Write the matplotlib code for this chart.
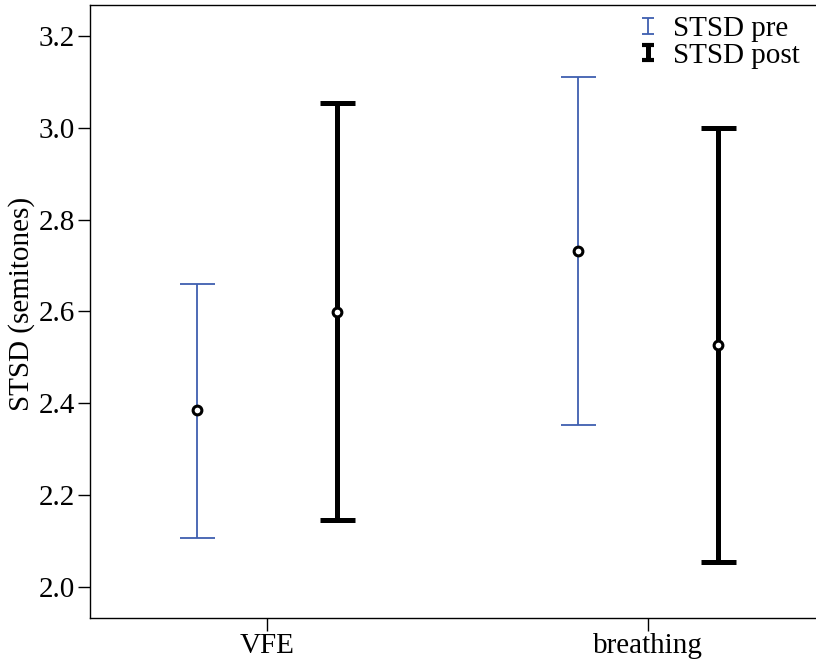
import numpy as np
import matplotlib.pyplot as plt
from matplotlib.container import ErrorbarContainer
from matplotlib.legend_handler import HandlerErrorbar

# %% data
groups = ["VFE", "breathing"]
pre_mean = [2.385, 2.732]
pre_low = [2.107, 2.353]
pre_high = [2.660, 3.111]
post_mean = [2.599, 2.527]
post_low = [2.146, 2.054]
post_high = [3.054, 3.000]

blue = "#3f5fb0"

plt.rcParams["font.family"] = ["Liberation Serif", "DejaVu Serif"]
plt.rcParams["font.size"] = 21

fig = plt.figure(figsize=(8.16, 6.68), dpi=100)
ax = fig.add_axes([90/816, 50/668, 726/816, 613/668])

x = np.arange(len(groups))
off = 0.184

pre_mean = np.array(pre_mean)
post_mean = np.array(post_mean)
pre_err = [pre_mean - np.array(pre_low), np.array(pre_high) - pre_mean]
post_err = [post_mean - np.array(post_low), np.array(post_high) - post_mean]

ax.errorbar(x - off, pre_mean, yerr=pre_err, fmt="none", ecolor=blue,
            elinewidth=1.3, capsize=12.6, capthick=1.3, zorder=2)
ax.errorbar(x + off, post_mean, yerr=post_err, fmt="none", ecolor="black",
            elinewidth=3.6, capsize=12.6, capthick=3.6, zorder=2)
ax.plot(x - off, pre_mean, "o", mfc="white", mec="black", ms=6.3, mew=2.2,
        zorder=3)
ax.plot(x + off, post_mean, "o", mfc="white", mec="black", ms=6.3, mew=2.2,
        zorder=3)

# small handles just for the legend
h_pre = ax.errorbar([np.nan], [np.nan], yerr=[0.1], fmt="none", ecolor=blue,
                    elinewidth=1.3, capsize=4, capthick=1.3)
h_post = ax.errorbar([np.nan], [np.nan], yerr=[0.1], fmt="none",
                     ecolor="black", elinewidth=3.6, capsize=4, capthick=3.0)
ax.legend([h_pre, h_post], ["STSD pre", "STSD post"], loc="upper right",
          bbox_to_anchor=(1.014, 1.025), frameon=False, handlelength=0.8,
          handletextpad=0.45, labelspacing=0.0,
          handler_map={ErrorbarContainer: HandlerErrorbar(xerr_size=0.27)})

ax.set_xlim(-0.465, 1.441)
ax.set_ylim(1.9325, 3.2675)
ax.set_xticks(x)
ax.set_xticklabels(groups)
ax.set_yticks(np.arange(2.0, 3.21, 0.2))
ax.set_yticklabels(["%.1f" % v for v in np.arange(2.0, 3.21, 0.2)])
ax.tick_params(direction="out", length=9, width=1, pad=2)
ax.spines["right"].set_visible(False)
for s in ["left", "bottom", "top"]:
    ax.spines[s].set_linewidth(1)
ax.set_ylabel("STSD (semitones)")
ax.yaxis.set_label_coords(-0.076, 0.512)

fig.savefig("out.png", dpi=100)
